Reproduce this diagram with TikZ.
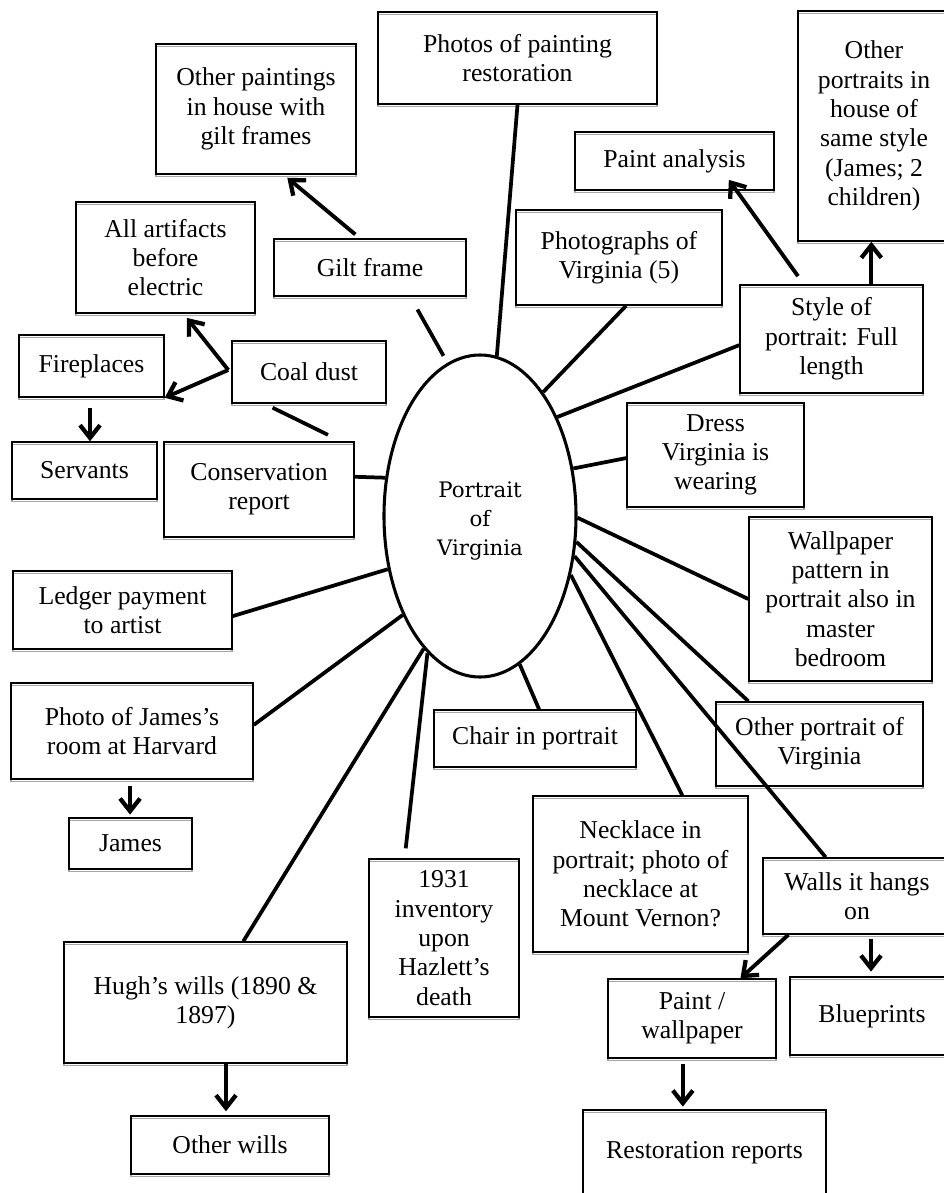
\documentclass[tikz,border=0pt]{standalone}
\usepackage{fontspec}
\setmainfont{Liberation Serif}
\newfontfamily\ellfont{DejaVu Serif}
\usetikzlibrary{arrows.meta,calc,shadows,shapes.geometric}
\begin{document}
\begin{tikzpicture}[x=0.75pt,y=-0.75pt,
  bx/.style={draw, line width=1.1pt, inner sep=0pt, align=center,
     font=\fontsize{19.3}{22}\selectfont,
     drop shadow={shadow xshift=0pt, shadow yshift=-1.8pt, opacity=1, fill=none, draw=black!35, line width=0.8pt}},
  sz/.style 2 args={minimum width=#1*0.75pt, minimum height=#2*0.75pt},
  ln/.style={line width=2.8pt},
  ar/.style={line width=2.9pt, -{Straight Barb[length=9.5pt,width=15pt,line width=3.2pt]}}]
\useasboundingbox (0,0) rectangle (944,1193);

% central ellipse
\node[ellipse, draw, line width=2.3pt, minimum width=192*0.75pt, minimum height=322*0.75pt,
  inner sep=0pt,
  label={[align=center, font=\ellfont\fontsize{16}{21.7}\selectfont, yshift=-3.5pt]center:Portrait\\of\\Virginia}] (ell) at (480,516) {};

% boxes
\node[bx, sz={279}{92}] (prest) at (517.5,58) {Photos of painting\\restoration};
\node[bx, sz={200}{130}] (opaint) at (256,109) {Other paintings\\in house with\\gilt frames};
\node[bx, sz={179}{111}] (art) at (165.5,257.5) {All artifacts\\before\\electric};
\node[bx, sz={192}{57}] (gilt) at (370,267.5) {Gilt frame};
\node[bx, sz={145}{62}] (fire) at (91.5,366) {Fireplaces};
\node[bx, sz={154}{62}] (coal) at (309,372) {Coal dust};
\node[bx, sz={145}{57}] (serv) at (84.5,470.5) {Servants};
\node[bx, sz={190}{95}] (cons) at (259,489.5) {Conservation\\report};
\node[bx, sz={219}{78}] (ledger) at (122.5,610) {Ledger payment\\to artist};
\node[bx, sz={242}{96}] (pjames) at (132,731) {Photo of James’s\\room at Harvard};
\node[bx, sz={123}{51}] (james) at (130.5,843.5) {James};
\node[bx, sz={283}{121}] (hugh) at (205.5,1002.5) {Hugh’s wills (1890 \&\\1897)};
\node[bx, sz={198}{58}] (owills) at (230,1145) {Other wills};
\node[bx, sz={150}{158}] (inv) at (444,938) {1931\\inventory\\upon\\Hazlett’s\\death};
\node[bx, sz={215}{156}] (neck) at (640.5,874) {Necklace in\\portrait; photo of\\necklace at\\Mount Vernon?};
\node[bx, sz={188}{76}] (walls) at (857,896) {Walls it hangs\\on};
\node[bx, sz={168}{79}] (paintw) at (692,1018.5) {Paint /\\wallpaper};
\node[bx, sz={164}{78}] (blue) at (872,1016) {Blueprints};
\node[bx, sz={243}{86}] (rrep) at (704.5,1153) {Restoration reports};
\node[bx, sz={202}{57}] (chair) at (535,738.5) {Chair in portrait};
\node[bx, sz={207}{84}] (oport) at (819.5,744) {Other portrait of\\Virginia};
\node[bx, sz={183}{164}] (wallp) at (840.5,599) {Wallpaper\\pattern in\\portrait also in\\master\\bedroom};
\node[bx, sz={177}{104}] (dress) at (715.5,455) {Dress\\Virginia is\\wearing};
\node[bx, sz={183}{108}] (style) at (831.5,339) {Style of\\portrait: Full\\length};
\node[bx, sz={152}{230}] (oports) at (874,126) {Other\\portraits in\\house of\\same style\\(James; 2\\children)};
\node[bx, sz={199}{58}] (panal) at (674.5,161) {Paint analysis};
\node[bx, sz={206}{95}] (pvirg) at (619,257.5) {Photographs of\\Virginia (5)};

% spokes to the ellipse
\draw[ln] (prest.south) -- (ell.84);
\draw[ln, shorten <=11pt, shorten >=6pt] ($(gilt.south west)!0.708!(gilt.south east)$) -- (ell.102.6);
\draw[ln] ($(pvirg.south west)!0.534!(pvirg.south east)$) -- (ell.63.8);
\draw[ln] ($(style.north west)!0.556!(style.south west)$) -- (ell.52.5);
\draw[ln] ($(dress.north west)!0.529!(dress.south west)$) -- (ell.27);
\draw[ln] (wallp.west) -- (ell.-1);
\draw[ln] ($(oport.north west)!0.159!(oport.north east)$) -- (ell.-15.7);
\draw[ln] ($(walls.north west)!0.335!(walls.north east)$) -- (ell.-23.6);
\draw[ln] ($(neck.north west)!0.693!(neck.north east)$) -- (ell.-33.5);
\draw[ln] ($(chair.north west)!0.52!(chair.north east)$) -- (ell.-75.8);
\draw[ln, shorten <=7.5pt] ($(inv.north west)!0.24!(inv.north east)$) -- (ell.-111);
\draw[ln] ($(hugh.north west)!0.633!(hugh.north east)$) -- (ell.-113.1);
\draw[ln] ($(pjames.north east)!0.4375!(pjames.south east)$) -- (ell.-128);
\draw[ln] ($(ledger.north east)!0.577!(ledger.south east)$) -- (ell.-150);
\draw[ln] ($(cons.north east)!0.368!(cons.south east)$) -- (ell.158);
\draw[ln, shorten <=6.7pt, shorten >=11pt] ($(coal.south west)!0.214!(coal.south east)$) -- ($(cons.north west)!0.929!(cons.north east)$);

% arrows
\draw[ar, shorten <=4.5pt, shorten >=3.5pt] ($(gilt.north west)!0.448!(gilt.north east)$) -- ($(opaint.south west)!0.6375!(opaint.south east)$);
\coordinate (cl) at ($(coal.north west)!0.468!(coal.south west)+(-3,0)$);
\draw[ar, shorten >=4pt] (cl) -- ($(art.south west)!0.6!(art.south east)$);
\draw[ar] (cl) -- (fire.south east);
\coordinate (fs) at ($(fire.south west)!0.49!(fire.south east)$);
\draw[ar, shorten <=8pt] (fs) -- (fs |- serv.north);
\coordinate (s1) at ($(style.north west)!0.716!(style.north east)$);
\draw[ar] (s1) -- (s1 |- oports.south);
\draw[ar, shorten <=7.5pt, shorten >=-10pt] ($(style.north west)!0.35!(style.north east)$) -- ($(panal.south west)!0.81!(panal.south east)$);
\coordinate (pj) at ($(pjames.south west)!0.492!(pjames.south east)$);
\draw[ar, shorten <=4.5pt, shorten >=2pt] (pj) -- (pj |- james.north);
\coordinate (hw) at ($(hugh.south west)!0.572!(hugh.south east)$);
\draw[ar, shorten >=3pt] (hw) -- (hw |- owills.north);
\draw[ar] ($(walls.south west)!0.138!(walls.south east)$) -- ($(paintw.north west)!0.786!(paintw.north east)$);
\coordinate (wb) at ($(walls.south west)!0.574!(walls.south east)$);
\draw[ar, shorten <=3pt, shorten >=3.5pt] (wb) -- (wb |- blue.north);
\coordinate (pr) at ($(paintw.south west)!0.446!(paintw.south east)$);
\draw[ar, shorten <=4pt, shorten >=2pt] (pr) -- (pr |- rrep.north);
\end{tikzpicture}
\end{document}
